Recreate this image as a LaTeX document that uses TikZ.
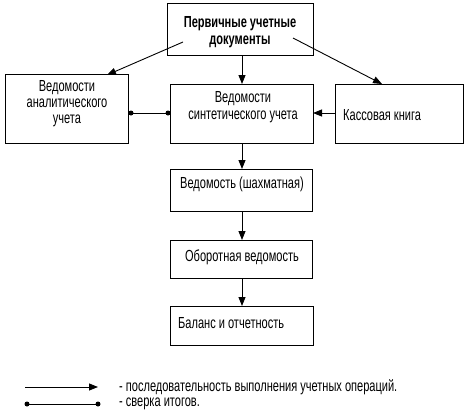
\documentclass[tikz,border=0pt]{standalone}
\usepackage{fontspec}
\setmainfont{Liberation Sans}[FakeStretch=0.69]
\usetikzlibrary{arrows.meta}
\begin{document}
\begin{tikzpicture}[x=1pt,y=-1pt,
  box/.style={draw,line width=0.9pt},
  txt/.style={font=\fontsize{16}{16}\selectfont,align=center,inner sep=0pt},
  flow/.style={draw,line width=0.9pt,-{Triangle[length=9pt,width=7pt]}},
  dot/.style={fill,circle,inner sep=0pt,minimum size=5pt}]
\useasboundingbox (0,0) rectangle (469,415);
% boxes
\draw[box] (167,3) rectangle (313,55);
\node[txt,font=\fontsize{16}{17}\selectfont\bfseries] (top) at (240,32) {Первичные учетные\\документы};
\draw[box] (5,74) rectangle (128,143);
\node[txt] (anal) at (67,104) {Ведомости\\аналитического\\учета};
\draw[box] (170,84) rectangle (313,143);
\node[txt,font=\fontsize{16}{17}\selectfont] (synt) at (243,107) {Ведомости\\синтетического учета};
\draw[box] (335,84) rectangle (463,143);
\node[txt,anchor=west] (kass) at (343,115) {Кассовая книга};
\draw[box] (170,169) rectangle (312,211);
\node[txt] (shah) at (242,184) {Ведомость (шахматная)};
\draw[box] (170,240) rectangle (312,278);
\node[txt] (obor) at (242,257) {Оборотная ведомость};
\draw[box] (170,306) rectangle (313,345);
\node[txt,anchor=west] (bal) at (178,323) {Баланс и отчетность};
% coordinates for connectors
\coordinate (a1) at (183,42); \coordinate (a2) at (107,75);
\coordinate (b1) at (293,38); \coordinate (b2) at (382,84);
\coordinate (c1) at (242,55); \coordinate (c2) at (242,84);
\coordinate (d1) at (335,113); \coordinate (d2) at (313,113);
\coordinate (e1) at (131,113); \coordinate (e2) at (168,113);
\coordinate (f1) at (242,143); \coordinate (f2) at (242,169);
\coordinate (g1) at (242,211); \coordinate (g2) at (242,240);
\coordinate (h1) at (242,278); \coordinate (h2) at (242,306);
\path[flow] (a1) -- (a2);
\path[flow] (b1) -- (b2);
\path[flow] (c1) -- (c2);
\path[flow] (d1) -- (d2);
\path[flow] (f1) -- (f2);
\path[flow] (g1) -- (g2);
\path[flow] (h1) -- (h2);
\draw[line width=0.9pt] (e1) -- (e2);
\node[dot] at (e1) {}; \node[dot] at (e2) {};
% legend
\coordinate (l1) at (25,387); \coordinate (l2) at (98,387);
\path[flow] (l1) -- (l2);
\node[txt,anchor=west] (lt1) at (119,387) {- последовательность выполнения учетных операций.};
\coordinate (m1) at (27,404); \coordinate (m2) at (98,404);
\draw[line width=0.9pt] (m1) -- (m2);
\node[dot] at (m1) {}; \node[dot] at (m2) {};
\node[txt,anchor=west] (lt2) at (119,404) {- сверка итогов.};
\end{tikzpicture}
\end{document}
